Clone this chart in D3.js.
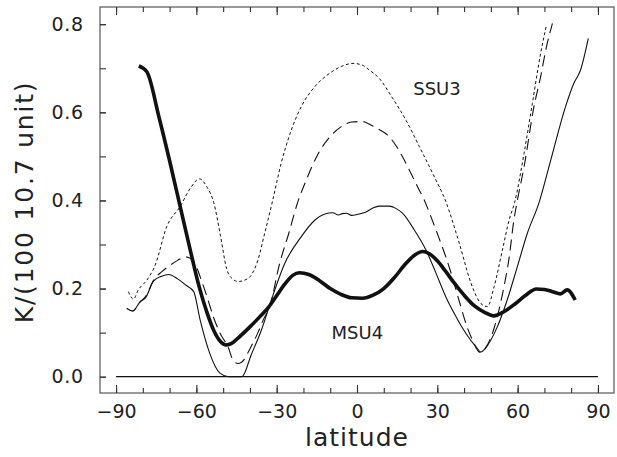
<!DOCTYPE html>
<html>
<head>
<meta charset="utf-8">
<script src="https://cdn.jsdelivr.net/npm/d3@7"></script>
<style>
  body { margin: 0; background: #fff; }
  svg { display: block; }
  text { font-family: 'DejaVu Sans', sans-serif; fill: #222; }
</style>
</head>
<body>
<div id="chart"></div>
<script>
// latitude / response pairs
const msu4Lat = [-81.5, -78.5, -74, -70, -66, -62, -59, -56, -53.5, -51, -49, -47, -44, -40, -36, -33, -30, -27, -24, -21.5, -18, -14, -10, -6, -2, 2, 6, 10, 14, 18, 22, 24.5, 27, 30, 33, 36, 40, 44, 48, 51, 55, 59, 63, 67, 70, 73, 76, 78.5, 81.5];
const msu4Val = [0.705, 0.692, 0.59, 0.49, 0.385, 0.28, 0.205, 0.145, 0.105, 0.08, 0.072, 0.075, 0.09, 0.113, 0.138, 0.158, 0.184, 0.21, 0.23, 0.236, 0.232, 0.218, 0.20, 0.187, 0.179, 0.178, 0.185, 0.20, 0.225, 0.255, 0.278, 0.284, 0.279, 0.263, 0.24, 0.215, 0.185, 0.16, 0.145, 0.138, 0.148, 0.165, 0.185, 0.199, 0.198, 0.193, 0.188, 0.197, 0.174];

const solidLat = [-86, -83.8, -81, -79, -76, -73, -70.4, -67, -64, -61, -58.6, -55, -51.2, -48, -43, -39.5, -35.7, -32, -27, -20.8, -15.8, -12, -9, -7, -5.5, -4, -2, 0, 3.4, 6, 8.3, 12, 14.5, 17, 21.4, 25.8, 29.5, 33.2, 37, 40.7, 44.4, 46.3, 48, 52.4, 56.1, 59.9, 63.6, 68, 72.3, 77.9, 81, 83.5, 86.4];
const solidVal = [0.155, 0.149, 0.170, 0.179, 0.217, 0.228, 0.232, 0.222, 0.208, 0.193, 0.129, 0.053, 0.008, 0.0, 0.0, 0.05, 0.106, 0.174, 0.257, 0.318, 0.355, 0.369, 0.372, 0.367, 0.370, 0.371, 0.366, 0.368, 0.374, 0.383, 0.387, 0.387, 0.382, 0.371, 0.333, 0.287, 0.235, 0.181, 0.136, 0.098, 0.068, 0.056, 0.065, 0.113, 0.174, 0.25, 0.325, 0.395, 0.49, 0.613, 0.666, 0.696, 0.768];

const dashLat = [-86, -83.8, -81, -79, -76, -73, -70, -67, -64, -61.5, -60, -58.6, -56, -53.6, -51.2, -48, -46.5, -44.5, -42, -40.7, -37, -35, -32.6, -28.9, -25.5, -22.3, -18.9, -14.6, -10, -6, -2, 2, 5, 8, 11.5, 14.6, 17, 20.2, 22.7, 25.2, 27.5, 30, 33, 35.5, 38.5, 41, 43, 46, 48.5, 51.2, 53, 54.9, 56.8, 58.6, 59.9, 62.4, 66.1, 68.6, 70.5, 73];
const dashVal = [0.155, 0.149, 0.170, 0.182, 0.219, 0.238, 0.252, 0.264, 0.272, 0.265, 0.250, 0.227, 0.181, 0.135, 0.099, 0.065, 0.04, 0.03, 0.04, 0.055, 0.10, 0.129, 0.159, 0.257, 0.325, 0.393, 0.447, 0.505, 0.545, 0.567, 0.578, 0.579, 0.572, 0.562, 0.548, 0.524, 0.499, 0.461, 0.43, 0.40, 0.365, 0.325, 0.275, 0.228, 0.165, 0.115, 0.085, 0.055, 0.07, 0.11, 0.151, 0.204, 0.269, 0.355, 0.40, 0.476, 0.613, 0.681, 0.741, 0.802];

const dotLat = [-85.4, -83.5, -81.7, -78.5, -75.4, -71.1, -66.1, -62, -58.9, -56, -53.5, -51, -48.7, -46.5, -44.4, -40.7, -37, -34.5, -31.5, -28.3, -25.1, -20.8, -15.8, -10.8, -5.9, -1.5, 2, 4.6, 8.3, 13.3, 18.3, 23.3, 28.3, 33.2, 38.2, 42.6, 46.3, 48.7, 51.2, 54.3, 56.8, 58.9, 62.4, 65.5, 68.6, 70.7];
const dotVal = [0.193, 0.176, 0.197, 0.219, 0.253, 0.34, 0.386, 0.43, 0.449, 0.43, 0.395, 0.32, 0.245, 0.222, 0.216, 0.223, 0.265, 0.325, 0.40, 0.485, 0.55, 0.613, 0.658, 0.686, 0.704, 0.711, 0.707, 0.696, 0.677, 0.632, 0.582, 0.522, 0.461, 0.397, 0.303, 0.212, 0.166, 0.159, 0.204, 0.287, 0.355, 0.396, 0.507, 0.62, 0.734, 0.796];

const xTicks = [-90, -60, -30, 0, 30, 60, 90];
const yTicks = [0.0, 0.2, 0.4, 0.6, 0.8];
const labels = [
  { text: 'SSU3', lat: 21, val: 0.64 },
  { text: 'MSU4', lat: -9.5, val: 0.085 }
];

const W = 617, H = 457;
const svg = d3.select('#chart').append('svg')
  .attr('width', W)
  .attr('height', H);

const x = d3.scaleLinear().domain([-96, 96]).range([100, 614]);
const y = d3.scaleLinear().domain([-0.037, 0.839]).range([393, 7]);

// frame
svg.append('rect')
  .attr('x', x.range()[0])
  .attr('y', y.range()[1])
  .attr('width', x.range()[1] - x.range()[0])
  .attr('height', y.range()[0] - y.range()[1])
  .attr('fill', 'none')
  .attr('stroke', '#555')
  .attr('stroke-width', 1.2);

// ticks point into the plot, labels outside
const minorX = d3.range(-90, 91, 10);
const minorY = d3.range(0, 0.81, 0.1);

function styleAxis(g) {
  g.select('.domain').remove();
  g.selectAll('line').attr('stroke', '#333').attr('stroke-width', 1.1);
}

svg.append('g')
  .attr('transform', `translate(0,${y.range()[0]})`)
  .call(d3.axisBottom(x).tickValues(minorX).tickSize(-5).tickFormat(''))
  .call(styleAxis);
svg.append('g')
  .attr('transform', `translate(0,${y.range()[0]})`)
  .call(d3.axisBottom(x).tickValues(xTicks).tickSize(-8).tickPadding(12))
  .call(styleAxis)
  .selectAll('text')
    .attr('font-size', 19)
    .attr('font-family', 'DejaVu Sans')
    .attr('fill', '#222');

svg.append('g')
  .attr('transform', `translate(0,${y.range()[1]})`)
  .call(d3.axisTop(x).tickValues(minorX).tickSize(-5).tickFormat(''))
  .call(styleAxis);
svg.append('g')
  .attr('transform', `translate(0,${y.range()[1]})`)
  .call(d3.axisTop(x).tickValues(xTicks).tickSize(-8).tickFormat(''))
  .call(styleAxis);

svg.append('g')
  .attr('transform', `translate(${x.range()[0]},0)`)
  .call(d3.axisLeft(y).tickValues(minorY).tickSize(-6).tickFormat(''))
  .call(styleAxis);
svg.append('g')
  .attr('transform', `translate(${x.range()[0]},0)`)
  .call(d3.axisLeft(y).tickValues(yTicks).tickSize(-6).tickPadding(16).tickFormat(d3.format('.1f')))
  .call(styleAxis)
  .selectAll('text')
    .attr('font-size', 19)
    .attr('font-family', 'DejaVu Sans')
    .attr('letter-spacing', 0.8)
    .attr('fill', '#222');

// zero line
svg.append('line')
  .attr('x1', x(-90))
  .attr('x2', x(90))
  .attr('y1', y(0))
  .attr('y2', y(0))
  .attr('stroke', '#111')
  .attr('stroke-width', 1.2);

// curves
const line = d3.line()
  .x(d => x(d[0]))
  .y(d => y(d[1]))
  .curve(d3.curveMonotoneX);

const series = [
  { lat: dotLat, val: dotVal, width: 1, dash: '3,2.5' },
  { lat: dashLat, val: dashVal, width: 1.1, dash: '11,6' },
  { lat: solidLat, val: solidVal, width: 1.1, dash: null },
  { lat: msu4Lat, val: msu4Val, width: 3.6, dash: null }
];

svg.append('g')
  .selectAll('path')
  .data(series)
  .enter()
  .append('path')
    .attr('d', s => line(d3.zip(s.lat, s.val)))
    .attr('fill', 'none')
    .attr('stroke', '#111')
    .attr('stroke-width', s => s.width)
    .attr('stroke-dasharray', s => s.dash)
    .attr('stroke-linejoin', 'round');

svg.append('g')
  .selectAll('text')
  .data(labels)
  .enter()
  .append('text')
    .attr('x', d => x(d.lat))
    .attr('y', d => y(d.val))
    .attr('font-size', 18)
    .text(d => d.text);

// axis titles
svg.append('text')
  .attr('x', x(0))
  .attr('y', 446)
  .attr('text-anchor', 'middle')
  .attr('font-size', 25)
  .attr('letter-spacing', 1)
  .text('latitude');

svg.append('text')
  .attr('transform', 'translate(33,202) rotate(-90)')
  .attr('text-anchor', 'middle')
  .attr('font-size', 25)
  .attr('letter-spacing', 1.8)
  .text('K/(100 10.7 unit)');
</script>
</body>
</html>
